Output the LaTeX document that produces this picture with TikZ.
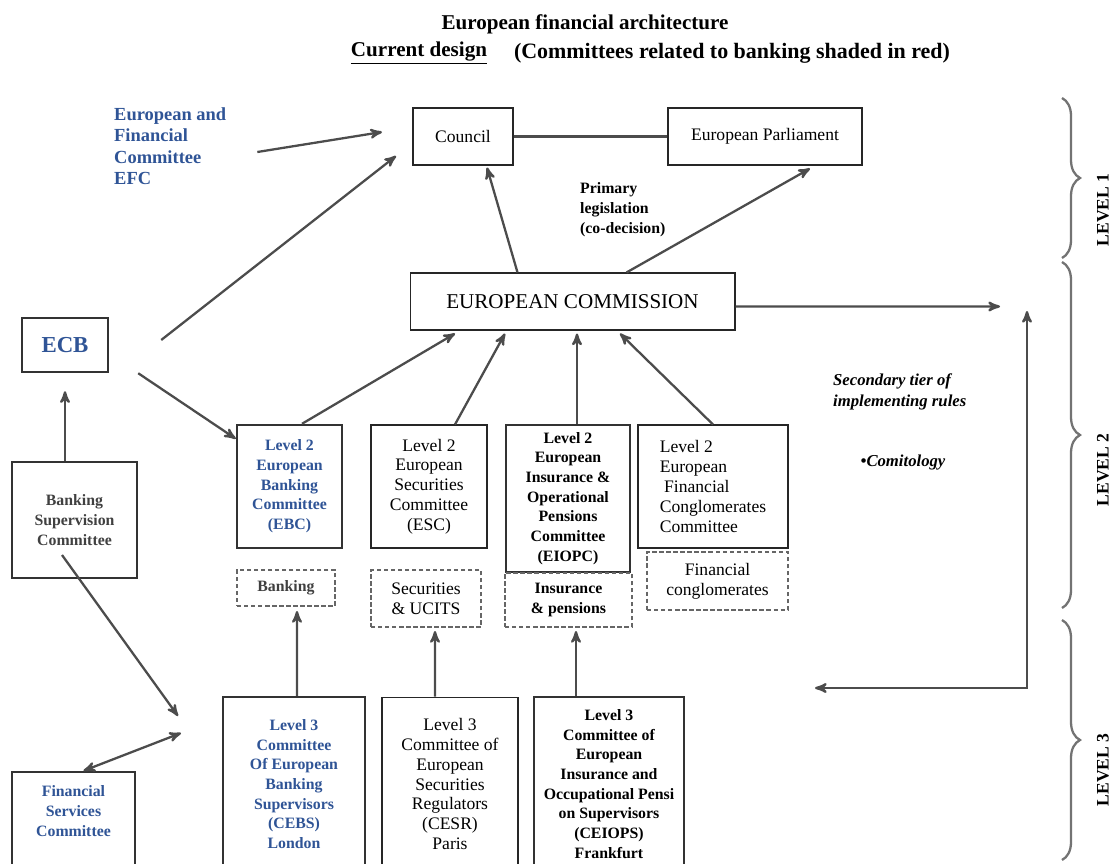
\documentclass[tikz,border=0pt]{standalone}
\usepackage{fontspec}
\setmainfont{Liberation Serif}
\usetikzlibrary{arrows, decorations.pathreplacing}
\definecolor{efblue}{RGB}{47,84,150}
\tikzset{
>=stealth', % arrow heads
box/.style={draw=black!85, line width=0.6pt, fill=white, inner sep=1pt, align=center, font=\fontsize{10}{11.3}\selectfont}, % plain committee boxes
heavybox/.style={box, draw=black!80, line width=1.4pt, font=\bfseries\fontsize{9}{11.2}\selectfont}, % committees drawn heavy
areabox/.style={box, draw=black!60, dash pattern=on 2.5pt off 1.5pt, line width=1.2pt}, % dashed field boxes
link/.style={->, draw=black!70, line width=1.3pt}, % connectors
lvlbrace/.style={decorate, decoration={brace, amplitude=0.36cm}, draw=black!55, line width=1.3pt}, % level braces
lvltext/.style={rotate=90, font=\bfseries\fontsize{10}{12}\selectfont},
}

\begin{document}
\begin{tikzpicture}[x=0.02cm, y=-0.02cm]
\useasboundingbox (0,0) rectangle (1116,863);
\clip (0,0) rectangle (1116,863);

% title
\node[font=\bfseries\fontsize{12}{14}\selectfont] (title) at (585,24) {European financial architecture};
\node[font=\bfseries\fontsize{12}{14}\selectfont] (design) at (419,53) {\underline{Current design}};
\node[font=\bfseries\fontsize{12.5}{14}\selectfont] (shade) at (732,53) {(Committees related to banking shaded in red)};

% level 1
\node[box, minimum width=2cm, minimum height=1.14cm] (council) at (463,136.5) {Council};
\node[box, minimum width=3.88cm, minimum height=1.14cm] (parliament) at (765,136.5) {European Parliament};
\node[anchor=west, align=left, text=efblue, font=\bfseries\fontsize{10.5}{12.2}\selectfont] (efc) at (108,146) {European and\\Financial\\Committee\\EFC};
\node[anchor=west, align=left, font=\bfseries\fontsize{9}{11.4}\selectfont] (primary) at (574,210) {Primary\\legislation\\(co-decision)};

% level 2
\node[box, minimum width=6.5cm, minimum height=1.14cm, font=\fontsize{12}{14}\selectfont] (ec) at (572.5,301.5) {EUROPEAN COMMISSION};
\node[heavybox, minimum width=1.72cm, minimum height=1.08cm, text=efblue, font=\bfseries\fontsize{13}{15}\selectfont] (ecb) at (65,345) {ECB};
\node[heavybox, minimum width=2.5cm, minimum height=2.32cm, text=black!75] (bsc) at (74.5,520) {Banking\\Supervision\\Committee};
\node[heavybox, minimum width=2.1cm, minimum height=2.46cm, text=efblue] (ebc) at (289.5,486.5) {Level 2\\European\\Banking\\Committee\\(EBC)};
\node[box, minimum width=2.32cm, minimum height=2.46cm] (esc) at (429,486.5) {Level 2\\European\\Securities\\Committee\\(ESC)};
\node[heavybox, minimum width=2.48cm, minimum height=2.94cm] (eiopc) at (568,498.5) {Level 2\\European\\Insurance \&\\Operational\\Pensions\\Committee\\(EIOPC)};
\node[box, minimum width=3cm, minimum height=2.46cm, align=left] (efcc) at (713,486.5) {Level 2\\European\\\ Financial\\Conglomerates\\Committee};

\node[areabox, minimum width=1.96cm, minimum height=0.72cm, font=\bfseries\fontsize{9}{11.2}\selectfont, text=black!75] (banking) at (286,588) {Banking};
\node[areabox, minimum width=2.2cm, minimum height=1.14cm] (securities) at (426,598.5) {Securities\\\& UCITS};
\node[areabox, minimum width=2.54cm, minimum height=1.08cm, font=\bfseries\fontsize{9}{11.2}\selectfont] (insurance) at (568.5,600) {Insurance\\\& pensions};
\node[areabox, minimum width=2.82cm, minimum height=1.16cm] (conglomerates) at (717.5,581) {Financial\\conglomerates};

\node[anchor=west, align=left, font=\bfseries\itshape\fontsize{9.5}{12}\selectfont] (secondary) at (827,392) {Secondary tier of\\implementing rules};
\node[font=\bfseries\itshape\fontsize{9.5}{12}\selectfont] (comitology) at (903,463) {\textbullet Comitology};

% level 3
\node[heavybox, minimum width=2.84cm, minimum height=3.48cm, text=efblue] (cebs) at (294,784) {Level 3\\Committee\\Of European\\Banking\\Supervisors\\(CEBS)\\London};
\node[box, minimum width=2.72cm, minimum height=3.48cm] (cesr) at (450,784) {Level 3\\Committee of\\European\\Securities\\Regulators\\(CESR)\\Paris};
\node[heavybox, minimum width=3cm, minimum height=3.48cm] (ceiops) at (609,784) {Level 3\\Committee of\\European\\Insurance and\\Occupational Pensi\\on Supervisors\\(CEIOPS)\\Frankfurt};
\node[heavybox, minimum width=2.46cm, minimum height=2.16cm, text=efblue] (fsc) at (73.5,826) {Financial\\Services\\Committee\\[0.2cm]};

% free ends
\coordinate (efcend) at (382,132);
\coordinate (ecbcouncil) at (396,156);
\coordinate (rightend) at (1000,306.5);
\coordinate (fbleft) at (815,688);
\coordinate (fbtop) at (1027,311);
\coordinate (cebsin) at (178,716);
\coordinate (fscend) at (181,733);

% connectors
\draw[link, -] (council) -- (parliament);
\draw[link] ([xshift=0.5cm,yshift=-0.12cm]efc.east) -- (efcend);
\draw[link] ([xshift=1.04cm,yshift=0.1cm]ecb.east) -- (ecbcouncil);
\draw[link] ([xshift=-1.1cm]ec.north) -- ([xshift=0.48cm,yshift=-0.04cm]council.south);
\draw[link] ([xshift=1.08cm]ec.north) -- ([xshift=0.9cm,yshift=-0.06cm]parliament.south);
\draw[link] ([yshift=-0.1cm]ec.east) -- (rightend);
\draw[link, <->] (fbleft) -| (fbtop);
\draw[link, shorten >=0.36cm] (bsc.north -| ecb.south) -- (ecb.south);
\draw[link] ([xshift=0.58cm]ecb.south east) -- ([yshift=-0.3cm]ebc.north west);
\draw[link] ([xshift=-0.25cm,yshift=-0.7cm]bsc.center) -- (cebsin);
\draw[link, <->] ([xshift=0.2cm]fsc.north) -- (fscend);
\draw[link] ([xshift=0.25cm]ebc.north) -- ([xshift=-2.35cm,yshift=-0.06cm]ec.south);
\draw[link] ([xshift=0.52cm]esc.north) -- ([xshift=-1.35cm,yshift=-0.06cm]ec.south);
\draw[link] ([xshift=0.18cm]eiopc.north) -- ([xshift=0.18cm,yshift=-0.06cm]eiopc.north |- ec.south);
\draw[link] (efcc.north) -- ([xshift=0.95cm,yshift=-0.06cm]ec.south);
\draw[link] ([xshift=0.06cm]cebs.north) -- ([xshift=0.22cm,yshift=-0.08cm]banking.south);
\draw[link] ([xshift=-0.3cm]cesr.north) -- ([xshift=0.18cm,yshift=-0.06cm]securities.south);
\draw[link] ([xshift=0.15cm]insurance.south |- ceiops.north) -- ([xshift=0.15cm,yshift=-0.06cm]insurance.south);

% level braces
\draw[lvlbrace] (1062,98) -- (1062,258);
\draw[lvlbrace] (1062,262) -- (1062,608);
\draw[lvlbrace] (1062,620) -- (1062,860);
\node[lvltext] (lvl1) at (1103,210) {LEVEL 1};
\node[lvltext] (lvl2) at (1103,470) {LEVEL 2};
\node[lvltext] (lvl3) at (1103,770) {LEVEL 3};
\end{tikzpicture}
\end{document}
